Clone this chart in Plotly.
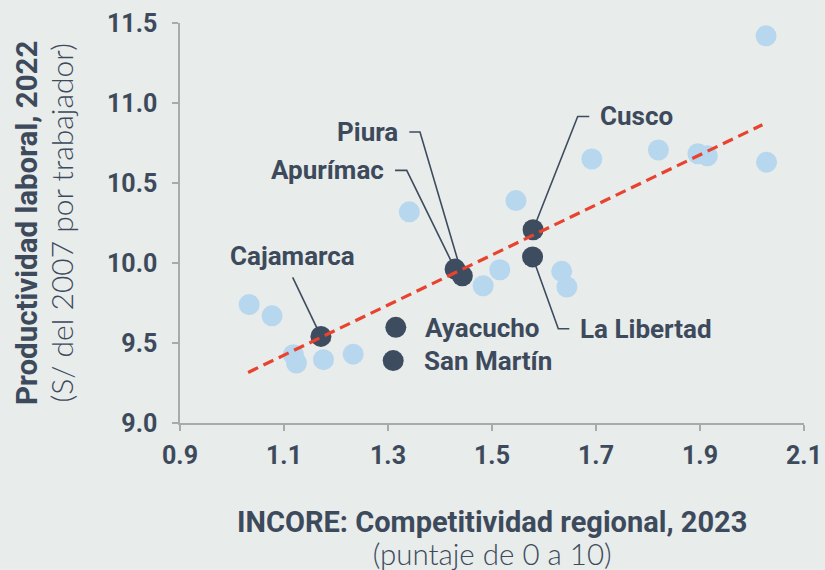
import plotly.graph_objects as go

# --- Data -------------------------------------------------------------
other_x = [1.033, 1.077, 1.118, 1.124, 1.176, 1.233, 1.341, 1.483, 1.515, 1.546,
           1.634, 1.644, 1.692, 1.820, 1.896, 1.914, 2.027, 2.028]
other_y = [9.74, 9.67, 9.427, 9.375, 9.396, 9.43, 10.32, 9.858, 9.958, 10.39,
           9.948, 9.85, 10.65, 10.706, 10.683, 10.67, 11.42, 10.63]

regions = ["Cajamarca", "Ayacucho", "San Martín", "Apurímac", "Piura", "Cusco", "La Libertad"]
reg_x = [1.171, 1.315, 1.310, 1.429, 1.443, 1.579, 1.578]
reg_y = [9.541, 9.598, 9.390, 9.962, 9.920, 10.208, 10.038]

trend_x = [1.031, 2.020]
trend_y = [9.316, 10.864]

x_ticks = [0.9, 1.1, 1.3, 1.5, 1.7, 1.9, 2.1]
y_ticks = [9.0, 9.5, 10.0, 10.5, 11.0, 11.5]

x_title = ["INCORE: Competitividad regional, 2023", "(puntaje de 0 a 10)"]
y_title = ["Productividad laboral, 2022", "(S/ del 2007 por trabajador)"]

# label placement (data coords): text anchor position, anchor, leader elbow points
label_pos = {
    "Cajamarca":   dict(x=1.1163, y=10.041, xanchor="center", lead=[(1.1167, 9.91)]),
    "Ayacucho":    dict(x=1.368, y=9.594, xanchor="left", lead=[]),
    "San Martín":  dict(x=1.365, y=9.39, xanchor="left", lead=[]),
    "Apurímac":    dict(x=1.2956, y=10.579, xanchor="right", lead=[(1.3135, 10.579), (1.336, 10.579)]),
    "Piura":       dict(x=1.323, y=10.819, xanchor="right", lead=[(1.341, 10.819), (1.3615, 10.819)]),
    "Cusco":       dict(x=1.7038, y=10.916, xanchor="left", lead=[(1.687, 10.916), (1.6648, 10.916)]),
    "La Libertad": dict(x=1.666, y=9.589, xanchor="left", lead=[(1.6487, 9.589), (1.6275, 9.589)]),
}

BG = "#e8ecea"
NAVY = "#3e4c60"
TXT = "#3d4a5c"
LIGHT = "#b7d7ee"
RED = "#e9432f"
AXIS = "#a9abab"
FONT = "Roboto"
LFONT = "Lato"

fig = go.Figure()

# leader lines (under markers)
for name, px, py in zip(regions, reg_x, reg_y):
    lp = label_pos[name]
    if lp["lead"]:
        xs = [p[0] for p in lp["lead"]] + [px]
        ys = [p[1] for p in lp["lead"]] + [py]
        fig.add_trace(go.Scatter(x=xs, y=ys, mode="lines",
                                 line=dict(color=NAVY, width=1.6),
                                 hoverinfo="skip", showlegend=False))

fig.add_trace(go.Scatter(x=other_x, y=other_y, mode="markers",
                         marker=dict(color=LIGHT, size=21, line=dict(width=0)),
                         showlegend=False, cliponaxis=False))

fig.add_trace(go.Scatter(x=reg_x, y=reg_y, mode="markers",
                         marker=dict(color=NAVY, size=21, line=dict(width=0)),
                         showlegend=False, cliponaxis=False))

fig.add_trace(go.Scatter(x=trend_x, y=trend_y, mode="lines",
                         line=dict(color=RED, width=3.2, dash="11px,6px"),
                         showlegend=False))

for name in regions:
    lp = label_pos[name]
    fig.add_annotation(x=lp["x"], y=lp["y"], text=name, showarrow=False,
                       xanchor=lp["xanchor"], yanchor="middle",
                       font=dict(family=FONT, size=26, color=TXT, weight="bold"))

bold_span = "<span style='font-family:Roboto;font-weight:bold;font-size:{s}px'>{t}</span>"
light_span = "<span style='font-family:Lato;font-weight:300;font-size:{s}px'>{t}</span>"

# axis titles (two-line, one annotation each)
fig.add_annotation(xref="paper", yref="paper", x=0.5, y=-0.2875, yanchor="middle",
                   text=bold_span.format(s=29, t=x_title[0]) + "<br>" +
                        light_span.format(s=29.5, t=x_title[1]),
                   showarrow=False,
                   font=dict(family=FONT, size=25, color=TXT))
fig.add_annotation(xref="paper", yref="paper", x=-0.218, y=0.5, xanchor="center",
                   text=bold_span.format(s=29.5, t=y_title[0]) + "<br>" +
                        light_span.format(s=30, t=y_title[1]),
                   showarrow=False, textangle=-90,
                   font=dict(family=FONT, size=27.7, color=TXT))

axis_common = dict(showgrid=False, zeroline=False, showline=True, linecolor=AXIS,
                   linewidth=1.5, ticks="outside", ticklen=6, tickcolor=AXIS,
                   tickwidth=1.5, automargin=False,
                   tickfont=dict(family=FONT, size=25, color=TXT, weight="bold"))

fig.update_xaxes(range=[0.9, 2.1], tickvals=x_ticks,
                 ticktext=[f"{v:.1f}" for v in x_ticks], ticklabelstandoff=3,
                 **axis_common)
fig.update_yaxes(range=[9.0, 11.5], tickvals=y_ticks,
                 ticktext=[f"{v:.1f}" for v in y_ticks], ticklabelstandoff=10,
                 **axis_common)

fig.update_layout(width=825, height=570, paper_bgcolor=BG, plot_bgcolor=BG,
                  margin=dict(l=180, r=21, t=23, b=147), showlegend=False)

fig.write_html("out.html", config={"displayModeBar": False},
               post_script="document.body.style.margin='0';document.body.style.padding='0';")
